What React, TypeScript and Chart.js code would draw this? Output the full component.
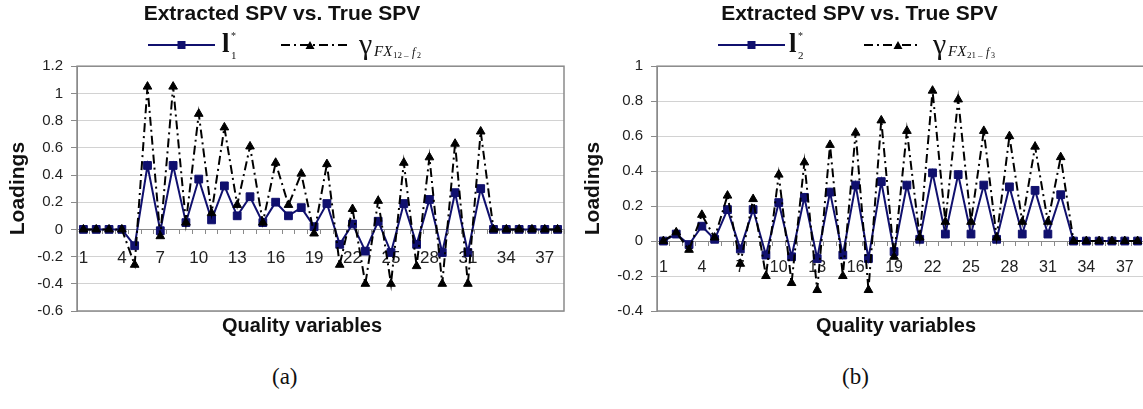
import React, { useEffect, useRef } from 'react';
import { Chart, registerables } from 'chart.js';

Chart.register(...registerables);

const SANS = '"Liberation Sans", Arial, Helvetica, sans-serif';
const SERIF = '"Liberation Serif", "Times New Roman", Times, serif';
Chart.defaults.font.family = SANS;

// ---------- data ----------
const categories = [
  '1', '2', '3', '4', '5', '6', '7', '8', '9', '10',
  '11', '12', '13', '14', '15', '16', '17', '18', '19', '20',
  '21', '22', '23', '24', '25', '26', '27', '28', '29', '30',
  '31', '32', '33', '34', '35', '36', '37', '38',
];
const shownTicks = ['1', '4', '7', '10', '13', '16', '19', '22', '25', '28', '31', '34', '37'];

// panel (a)
const loadingsA = [
  0, 0, 0, 0, -0.12, 0.47, -0.01, 0.47, 0.05, 0.37,
  0.07, 0.32, 0.10, 0.24, 0.05, 0.20, 0.10, 0.16, 0.02, 0.19,
  -0.11, 0.04, -0.16, 0.06, -0.17, 0.19, -0.11, 0.22, -0.17, 0.27,
  -0.17, 0.30, 0, 0, 0, 0, 0, 0,
];
const trueSpvA = [
  0, 0, 0, 0, -0.26, 1.05, -0.05, 1.05, 0.05, 0.85,
  0.12, 0.75, 0.18, 0.61, 0.05, 0.49, 0.18, 0.41, -0.03, 0.48,
  -0.26, 0.15, -0.40, 0.21, -0.40, 0.49, -0.27, 0.53, -0.40, 0.63,
  -0.40, 0.72, 0, 0, 0, 0, 0, 0,
];
const yRangeA = [-0.6, 1.2];

// panel (b)
const loadingsB = [
  0, 0.04, -0.02, 0.085, 0.01, 0.18, -0.045, 0.18, -0.08, 0.22,
  -0.09, 0.25, -0.10, 0.28, -0.08, 0.32, -0.10, 0.34, -0.06, 0.32,
  0.01, 0.39, 0.04, 0.38, 0.04, 0.32, 0.01, 0.31, 0.04, 0.29,
  0.04, 0.265, 0, 0, 0, 0, 0, 0,
];
const trueSpvB = [
  0, 0.05, -0.05, 0.15, 0.02, 0.26, -0.13, 0.24, -0.20, 0.38,
  -0.24, 0.45, -0.28, 0.55, -0.20, 0.62, -0.28, 0.69, -0.09, 0.63,
  0.02, 0.86, 0.11, 0.81, 0.11, 0.63, 0.02, 0.60, 0.11, 0.54,
  0.11, 0.48, 0, 0, 0, 0, 0, 0,
];
const yRangeB = [-0.4, 1];

const NAVY = '#10106e';
const DASH = [9, 4, 2, 4];

// ---------- plugins ----------
const framePlugin = {
  id: 'plotFrame',
  beforeDatasetsDraw(chart: any) {
    const { ctx, chartArea } = chart;
    ctx.save();
    ctx.strokeStyle = '#8a8a8a';
    ctx.lineWidth = 1.5;
    ctx.strokeRect(chartArea.left, chartArea.top, chartArea.right - chartArea.left, chartArea.bottom - chartArea.top);
    ctx.restore();
  },
};

const xTitlePlugin = {
  id: 'xTitle',
  afterDraw(chart: any, _args: any, opts: any) {
    if (!opts || !opts.text) return;
    const { ctx } = chart;
    ctx.save();
    ctx.font = `bold 20px ${SANS}`;
    ctx.fillStyle = '#111';
    ctx.textAlign = 'center';
    ctx.textBaseline = 'middle';
    ctx.fillText(opts.text, opts.x, opts.y);
    ctx.restore();
  },
};

type PanelProps = {
  left: number;
  width: number;
  height: number;
  yRange: number[];
  loadings: number[];
  truth: number[];
  plotLeft: number;
  rightPad: number;
  tickPad: number;
  tickSize: number;
  xTitleX: number;
};

function Panel(p: PanelProps) {
  const ref = useRef<HTMLCanvasElement>(null);
  useEffect(() => {
    const chart = new Chart(ref.current as HTMLCanvasElement, {
      type: 'line',
      data: {
        labels: categories,
        datasets: [
          {
            label: 'loading',
            data: p.loadings,
            borderColor: NAVY,
            backgroundColor: NAVY,
            borderWidth: 2,
            pointStyle: 'rect',
            pointRadius: 5.5,
            pointBackgroundColor: NAVY,
            pointBorderColor: NAVY,
            pointBorderWidth: 1,
            tension: 0,
            order: 1,
          },
          {
            label: 'true',
            data: p.truth,
            borderColor: '#000',
            backgroundColor: '#000',
            borderWidth: 2,
            borderDash: DASH,
            pointStyle: 'triangle',
            pointRadius: 5,
            pointBackgroundColor: '#000',
            pointBorderColor: '#000',
            pointBorderWidth: 1,
            tension: 0,
            order: 0,
          },
        ],
      },
      options: {
        animation: false,
        responsive: false,
        maintainAspectRatio: false,
        events: [],
        layout: { padding: { left: 0, right: p.rightPad, top: 0, bottom: 34 } },
        plugins: {
          legend: { display: false },
          tooltip: { enabled: false },
          title: {
            display: true,
            text: 'Extracted SPV vs. True SPV',
            color: '#111',
            font: { size: 21, weight: 'bold', family: SANS },
            padding: { top: 2, bottom: 39 },
          },
          // @ts-ignore
          xTitle: { text: 'Quality variables', x: p.xTitleX, y: 326 },
        },
        scales: {
          x: {
            type: 'category',
            position: { y: 0 } as any,
            offset: true,
            grid: {
              display: true,
              drawOnChartArea: false,
              drawTicks: true,
              tickLength: 4,
              color: '#8a8a8a',
              offset: true,
            },
            border: { display: true, color: '#8a8a8a', width: 1 },
            ticks: {
              autoSkip: false,
              maxRotation: 0,
              padding: p.tickPad,
              color: '#222',
              font: { size: p.tickSize },
              callback: (_v: any, i: number) => (shownTicks.includes(categories[i]) ? categories[i] : ''),
            },
          },
          y: {
            min: p.yRange[0],
            max: p.yRange[1],
            afterFit: (scale: any) => {
              scale.width = p.plotLeft;
            },
            grid: { color: '#d2d2d2', tickColor: '#8a8a8a', tickLength: 6, lineWidth: 1 },
            border: { display: true, color: '#8a8a8a' },
            ticks: {
              stepSize: 0.2,
              padding: 8,
              color: '#222',
              font: { size: 15 },
              callback: (v: any) => String(Math.round(Number(v) * 10) / 10),
            },
            title: {
              display: true,
              text: 'Loadings',
              color: '#111',
              font: { size: 21, weight: 'bold' },
              padding: { top: 6, bottom: 0 },
            },
          },
        },
      } as any,
      plugins: [framePlugin, xTitlePlugin],
    });
    return () => chart.destroy();
  }, []);
  return (
    <canvas
      ref={ref}
      width={p.width}
      height={p.height}
      style={{ position: 'absolute', left: p.left, top: 0, width: p.width, height: p.height }}
    />
  );
}

// ---------- legend ----------
function LineSample({ x1, x2, y, mark, dashed }: { x1: number; x2: number; y: number; mark: number; dashed: boolean }) {
  const w = x2 - x1;
  const mx = mark - x1;
  return (
    <svg style={{ position: 'absolute', left: x1, top: y - 7 }} width={w} height={14}>
      <line
        x1={0}
        y1={7}
        x2={w}
        y2={7}
        stroke={dashed ? '#000' : NAVY}
        strokeWidth={2}
        strokeDasharray={dashed ? DASH.join(' ') : undefined}
      />
      {dashed ? (
        <polygon points={`${mx - 4.5},11 ${mx + 4.5},11 ${mx},3`} fill="#000" />
      ) : (
        <rect x={mx - 4} y={3} width={8} height={8} fill={NAVY} />
      )}
    </svg>
  );
}

function Txt({ x, y, size, children, italic, bold }: any) {
  return (
    <div
      style={{
        position: 'absolute',
        left: x,
        top: y,
        fontFamily: SERIF,
        fontSize: size,
        lineHeight: 1,
        fontStyle: italic ? 'italic' : 'normal',
        fontWeight: bold ? 'bold' : 'normal',
        color: '#111',
        whiteSpace: 'nowrap',
      }}
    >
      {children}
    </div>
  );
}

function Legend({ off, idx, g1, g2, g3, lineEnd, dashStart, dashEnd, dashMark, gammaX, lX }: any) {
  const y = 45;
  return (
    <>
      <LineSample x1={off} x2={lineEnd} y={y} mark={(off + lineEnd) / 2} dashed={false} />
      <Txt x={lX} y={30} size={27} bold>l</Txt>
      <Txt x={lX + 9} y={31} size={10}>*</Txt>
      <Txt x={lX + 9} y={50} size={11}>{idx}</Txt>
      <LineSample x1={dashStart} x2={dashEnd} y={y} mark={dashMark} dashed />
      <Txt x={gammaX} y={29} size={30}>γ</Txt>
      <Txt x={gammaX + 15} y={44} size={15} italic>FX</Txt>
      <Txt x={gammaX + 34} y={51} size={9}>{g1}</Txt>
      <Txt x={gammaX + 45} y={49} size={9}>_</Txt>
      <Txt x={gammaX + 53} y={46} size={12} italic>{g2}</Txt>
      <Txt x={gammaX + 58} y={52} size={8}>{g3}</Txt>
    </>
  );
}

export default function App() {
  return (
    <div
      style={{
        position: 'fixed',
        left: 0,
        top: 0,
        width: 1143,
        height: 409,
        overflow: 'hidden',
        background: '#fff',
      }}
    >
      <Panel
        left={0}
        width={575}
        height={345}
        yRange={yRangeA}
        loadings={loadingsA}
        truth={trueSpvA}
        plotLeft={77}
        rightPad={11}
        tickPad={15}
        tickSize={17}
        xTitleX={302}
      />
      <Panel
        left={575}
        width={594}
        height={345}
        yRange={yRangeB}
        loadings={loadingsB}
        truth={trueSpvB}
        plotLeft={82}
        rightPad={25}
        tickPad={13}
        tickSize={16}
        xTitleX={321}
      />
      <Legend off={148} lineEnd={215} lX={222} idx="1" dashStart={281} dashEnd={350} dashMark={310} gammaX={359} g1="12" g2="f" g3="2" />
      <Legend off={718} lineEnd={785} lX={789} idx="2" dashStart={864} dashEnd={917} dashMark={898} gammaX={933} g1="21" g2="f" g3="3" />
      <Txt x={272} y={365} size={23}>(a)</Txt>
      <Txt x={842} y={365} size={23}>(b)</Txt>
    </div>
  );
}
